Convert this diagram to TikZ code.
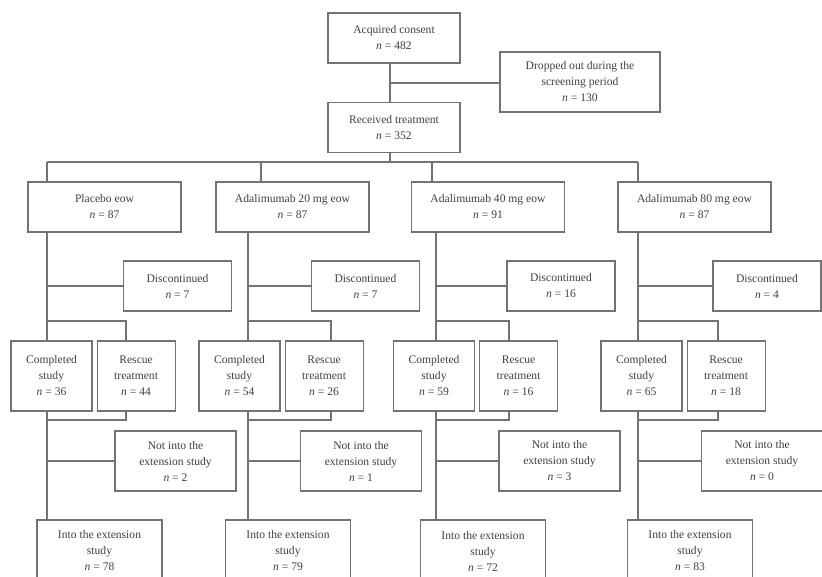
\documentclass[tikz,border=0pt]{standalone}
\usepackage{fontspec}
\setmainfont{Liberation Serif}
\usetikzlibrary{positioning}
\tikzset{
  box/.style      = {draw=black!55, line width=1.1pt, align=center, inner sep=1pt},
  topbox/.style   = {box, minimum width=132pt, minimum height=50pt},
  dropbox/.style  = {box, minimum width=160pt, minimum height=60pt},
  armbox/.style   = {box, minimum width=153pt, minimum height=50pt},
  discbox/.style  = {box, minimum width=108pt, minimum height=50pt},
  compbox/.style  = {box, minimum width=81pt, minimum height=70pt},
  rescbox/.style  = {box, minimum width=78pt, minimum height=70pt},
  notbox/.style   = {box, minimum width=121pt, minimum height=60pt},
  intobox/.style  = {box, minimum width=125pt, minimum height=62pt},
  link/.style     = {draw=black!55, line width=1.1pt},
}

\begin{document}
\begin{tikzpicture}[x=1pt, y=-1pt,
  every node/.style={font=\fontsize{11.6}{16}\selectfont, text=black!75}]
\useasboundingbox (0,0) rectangle (822,577);

% ── Screening ────────────────────────────────────────────────
\node[topbox]  (acq)  at (394,38)    {Acquired consent\\\textit{n} = 482};
\node[dropbox] (drop) at (580,82)    {Dropped out during the\\screening period\\\textit{n} = 130};
\node[topbox]  (rec)  at (394,127.5) {Received treatment\\\textit{n} = 352};
\coordinate (sdrop) at (390,83);
\coordinate (hub)   at (390,162);
\draw[link] (acq.south -| sdrop) -- (rec.north -| sdrop);
\draw[link] (sdrop) -- (drop.west |- sdrop);
\draw[link] (rec.south -| hub) -- (hub);

% ── Arms: bus x / spine x / arm, disc, completed, bracket, not-into, into x ──
\foreach \i/\tx/\sx/\ax/\dx/\cx/\qx/\kx/\ix/\lab/\na/\nd/\nc/\nr/\nn/\ni in {%
    1/47/47/104.5/177.5/51.5/126/175.5/99.5/{Placebo eow}/87/7/36/44/2/78,
    2/261/248/292.5/365.5/239.5/331/361/288/{Adalimumab 20 mg eow}/87/7/54/26/1/79,
    3/432/436/488/561/434/509/559.5/483/{Adalimumab 40 mg eow}/91/16/59/16/3/72,
    4/638/638/694.5/767/641.5/718/762/690/{Adalimumab 80 mg eow}/87/4/65/18/0/83}{
  \node[armbox]  (arm\i)  at (\ax,207) {\lab\\\textit{n} = \na};
  \node[discbox] (disc\i) at (\dx,286) {Discontinued\\\textit{n} = \nd};
  \node[compbox] (comp\i) at (\cx,376) {Completed\\study\\\textit{n} = \nc};
  \node[rescbox, right=4pt of comp\i] (resc\i) {Rescue\\treatment\\\textit{n} = \nr};
  \node[notbox]  (not\i)  at (\kx,461) {Not into the\\extension study\\\textit{n} = \nn};
  \node[intobox] (into\i) at (\ix,551) {Into the extension\\study\\\textit{n} = \ni};
  % junctions on the spine
  \coordinate (bus\i) at (\tx,162);
  \coordinate (sd\i)  at (\sx,286);
  \coordinate (sa\i)  at (\sx,321);
  \coordinate (ra\i)  at (\qx,321);
  \coordinate (sb\i)  at (\sx,420);
  \coordinate (rb\i)  at (\qx,420);
  \coordinate (sn\i)  at (\sx,461);
  \draw[link] (bus\i) -- (arm\i.north -| bus\i);
  \draw[link] (arm\i.south -| sd\i) -- (comp\i.north -| sd\i);
  \draw[link] (sd\i) -- (disc\i.west);
  \draw[link] (sa\i) -- (ra\i) -- (resc\i.north -| ra\i);
  \draw[link] (comp\i.south -| sb\i) -- (sb\i) -- (rb\i) -- (resc\i.south -| rb\i);
  \draw[link] (sb\i) -- (into\i.north -| sb\i);
  \draw[link] (sn\i) -- (not\i.west);
}
\draw[link] (bus1) -- (bus4);

\end{tikzpicture}
\end{document}
